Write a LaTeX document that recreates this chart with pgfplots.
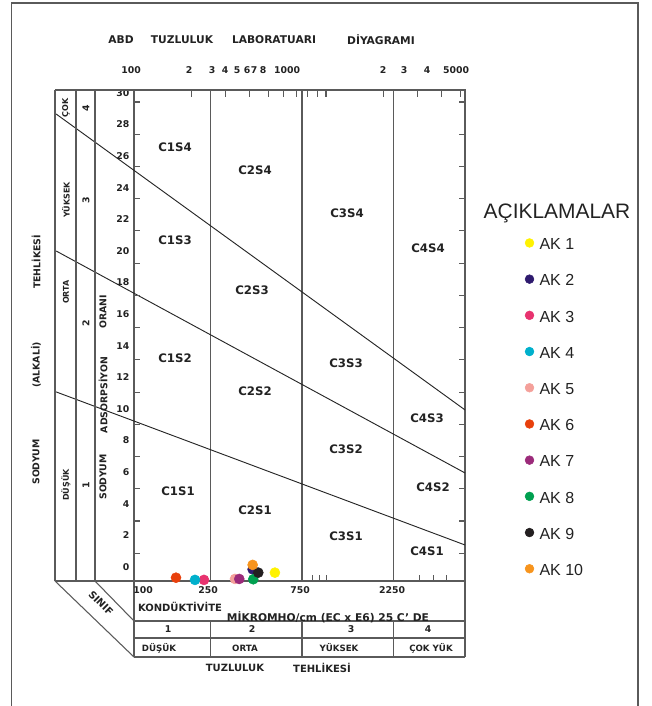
\documentclass[border=0pt]{standalone}
\usepackage{pgfplots}
\pgfplotsset{compat=1.18}
\usepackage{fontspec}
\setmainfont{DejaVu Sans}
\newfontfamily\lib{Liberation Sans}
\definecolor{ak1}{HTML}{FFF200}
\definecolor{ak2}{HTML}{2E1A6E}
\definecolor{ak3}{HTML}{E8336F}
\definecolor{ak4}{HTML}{00B0CC}
\definecolor{ak5}{HTML}{F4A09A}
\definecolor{ak6}{HTML}{E8400C}
\definecolor{ak7}{HTML}{9B2A7A}
\definecolor{ak8}{HTML}{00A050}
\definecolor{ak9}{HTML}{231F20}
\definecolor{ak10}{HTML}{F7941D}
\definecolor{frm}{HTML}{5A5A5A}
\definecolor{txt}{HTML}{222222}
\newcommand{\bsz}[1]{\bfseries\fontsize{#1}{#1}\selectfont}
\newcommand{\rsz}[1]{\fontsize{#1}{#1}\selectfont}
\begin{document}
\begin{tikzpicture}
\path[use as bounding box] (0pt,0pt) rectangle (489pt,-529.5pt);

\begin{axis}[
  at={(100.5pt,-435.75pt)}, anchor=south west,
  scale only axis, width=248.25pt, height=368.25pt,
  xmode=log, xmin=100, xmax=5300, ymin=-0.89, ymax=30.19,
  clip=false,
  axis line style={frm, line width=0.9pt},
  tick align=inside, major tick length=5pt, minor tick length=0pt,
  tick style={frm, line width=0.8pt},
  xtick={200,300,400,500,600,700,800,900,1000,2000,3000,4000,5000},
  xticklabels={}, xtick pos=right,
  ytick={0,2,4,6,8,10,12,14,16,18,20,22,24,26,28,30},
  ytick style={draw=none}, ytick pos=left,
  /pgf/number format/assume math mode=true,
  yticklabel style={font=\bsz{7}, text=txt},
  legend style={at={(axis description cs:1.180,0.704)}, anchor=north west,
    draw=none, fill=none, inner sep=0pt, row sep=14.55pt, column sep=2pt,
    font=\lib\rsz{12}, text=txt,
    nodes={inner sep=2pt, text height=8.6pt, text depth=0pt}},
  legend cell align=left,
  legend image code/.code={\fill (0pt,0.8pt) circle (3.3pt);},
]
% class boundaries
\addplot[frm, line width=0.9pt, forget plot] coordinates {(250,-0.89) (250,30.19)};
\addplot[frm, line width=0.9pt, forget plot] coordinates {(750,-0.89) (750,30.19)};
\addplot[frm, line width=0.9pt, forget plot] coordinates {(2250,-0.89) (2250,30.19)};
\addplot[black!85, line width=0.7pt, forget plot] coordinates {(39.3,11.08) (5300,1.39)};
\addplot[black!85, line width=0.7pt, forget plot] coordinates {(39.3,20.0) (5300,5.95)};
\addplot[black!85, line width=0.7pt, forget plot] coordinates {(39.3,28.67) (5300,9.94)};
% samples
\addplot[only marks, mark=*, mark size=3.75pt, color=ak1] coordinates {(542,-0.36)};
\addlegendentry{AK 1}
\addplot[only marks, mark=*, mark size=3.75pt, color=ak2] coordinates {(415,-0.15)};
\addlegendentry{AK 2}
\addplot[only marks, mark=*, mark size=3.75pt, color=ak3] coordinates {(231.5,-0.82)};
\addlegendentry{AK 3}
\addplot[only marks, mark=*, mark size=3.75pt, color=ak4] coordinates {(207.8,-0.82)};
\addlegendentry{AK 4}
\addplot[only marks, mark=*, mark size=3.75pt, color=ak5] coordinates {(335.8,-0.76)};
\addlegendentry{AK 5}
\addplot[only marks, mark=*, mark size=3.75pt, color=ak6] coordinates {(165.5,-0.68)};
\addlegendentry{AK 6}
\addplot[only marks, mark=*, mark size=3.75pt, color=ak7] coordinates {(353.5,-0.76)};
\addlegendentry{AK 7}
\addplot[only marks, mark=*, mark size=3.75pt, color=ak8] coordinates {(418,-0.78)};
\addlegendentry{AK 8}
\addplot[only marks, mark=*, mark size=3.75pt, color=ak9] coordinates {(444,-0.36)};
\addlegendentry{AK 9}
\addplot[only marks, mark=*, mark size=3.75pt, color=ak10] coordinates {(415,0.13)};
\addlegendentry{AK 10}
\end{axis}

% overlay axis for tick marks
\begin{axis}[
  at={(100.5pt,-435.75pt)}, anchor=south west,
  scale only axis, width=248.25pt, height=368.25pt,
  xmode=log, xmin=100, xmax=5300, ymin=-0.89, ymax=30.19,
  axis line style={draw=none},
  tick align=inside, major tick length=4.5pt, minor tick length=0pt,
  tick style={frm, line width=0.8pt},
  xtick={855,930,1011,3083,3628,4266}, xtick pos=left, xticklabels={},
  ytick={0.87,2.91,4.95,6.99,9.03,11.07,13.11,15.15,17.19,19.23,21.27,23.31,25.35,27.39,29.43},
  ytick pos=both, yticklabels={},
]
\end{axis}

\begin{scope}[x=0.75pt,y=-0.75pt]
% outer frame
\draw[frm, line width=1.1pt] (11.7,706) -- (11.7,3) -- (638,3) -- (638,706);
% left columns
\draw[frm, line width=0.9pt] (55,90) -- (134,90) (55,581) -- (134,581)
  (55,90) -- (55,581) (76,90) -- (76,581) (95,90) -- (95,581);
\draw[frm, line width=0.8pt] (55,581) -- (134,657) (95,581) -- (134,621);
% table below
\draw[frm, line width=0.9pt] (134,581) -- (134,657) (465,581) -- (465,657)
  (134,621) -- (465,621) (134,638) -- (465,638) (134,657) -- (465,657)
  (210.4,621) -- (210.4,657) (302,621) -- (302,657) (393.6,621) -- (393.6,657);
\begin{scope}[every node/.style={text=txt, inner sep=0pt}]
% title
\node[font=\bsz{8}] at (121,40) {ABD};
\node[font=\bsz{8}] at (182,40) {TUZLULUK};
\node[font=\bsz{8}] at (274,40) {LABORATUARI};
\node[font=\bsz{8}] at (381,40) {DİYAGRAMI};
% top scale labels
\foreach \p/\t in {131/100,189/2,212/3,225/4,237/5,247/6,254/7,263/8,287/1000,383/2,404/3,427/4,456/5000}
  \node[font=\bsz{7}] at (\p,70) {\t};
% left columns
\node[font=\bsz{6}, rotate=90] at (66,108) {ÇOK};
\node[font=\bsz{6}, rotate=90] at (66,200) {YÜKSEK};
\node[font=\bsz{6}, rotate=90] at (66,292) {ORTA};
\node[font=\bsz{6}, rotate=90] at (66,485) {DÜŞÜK};
\node[font=\bsz{7}, rotate=90] at (86,108) {4};
\node[font=\bsz{7}, rotate=90] at (86,200) {3};
\node[font=\bsz{7}, rotate=90] at (86,323) {2};
\node[font=\bsz{7}, rotate=90] at (86,485) {1};
\node[font=\bsz{7}, rotate=90] at (103,312) {ORANI};
\node[font=\bsz{7}, rotate=90] at (103,395) {ADSORPSİYON};
\node[font=\bsz{7}, rotate=90] at (103,477) {SODYUM};
\node[font=\bsz{7}, rotate=90] at (36,462) {SODYUM};
\node[font=\bsz{7}, rotate=90] at (36,365) {(ALKALİ)};
\node[font=\bsz{7}, rotate=90] at (36,262) {TEHLİKESİ};
\node[font=\bsz{7.5}, rotate=-45] at (101,603) {SINIF};
% bottom labels
\foreach \p/\t in {143/100,208/250,300/750,392/2250}
  \node[font=\bsz{7}] at (\p,590) {\t};
\node[font=\bsz{7.5}] at (180,607) {KONDÜKTİVİTE};
\node[font=\bsz{8}] at (328,617) {MİKROMHO/cm (EC x E6) 25 C' DE};
\foreach \p/\t in {168/1,252/2,351/3,428/4}
  \node[font=\bsz{7}] at (\p,629.5) {\t};
\node[font=\bsz{6.5}] at (159,648) {DÜŞÜK};
\node[font=\bsz{6.5}] at (245,648) {ORTA};
\node[font=\bsz{6.5}] at (339,648) {YÜKSEK};
\node[font=\bsz{6.5}] at (431,648) {ÇOK YÜK};
\node[font=\bsz{7.5}] at (235,668) {TUZLULUK};
\node[font=\bsz{7.5}] at (322,668) {TEHLİKESİ};
% zone labels
\foreach \p/\q/\t in {175/147/C1S4,255/170/C2S4,347/213/C3S4,428/248/C4S4,
  175/240/C1S3,252/290/C2S3,346/363/C3S3,427/418/C4S3,
  175/358/C1S2,255/391/C2S2,346/449/C3S2,433/487/C4S2,
  178/491/C1S1,255/510/C2S1,346/536/C3S1,427/551/C4S1}
  \node[font=\bsz{8.8}] at (\p,\q) {\t};
% legend title
\node[font=\lib\rsz{15.7}] at (557,213) {AÇIKLAMALAR};
\end{scope}
\end{scope}
\end{tikzpicture}
\end{document}
